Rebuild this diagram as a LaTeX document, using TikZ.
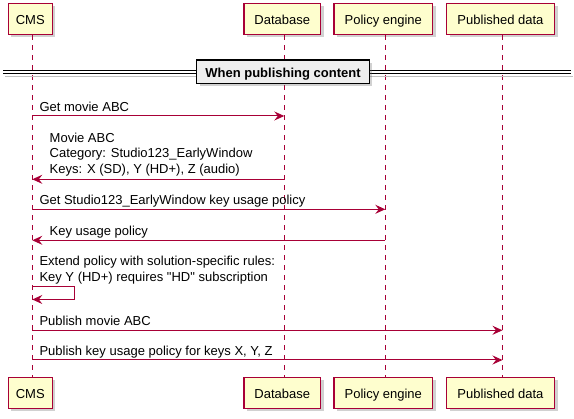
\documentclass[tikz,border=0pt]{standalone}
\usepackage{fontspec}
\setmainfont{Liberation Sans}
\usetikzlibrary{arrows.meta,shadows}
\definecolor{puborder}{HTML}{A80036}
\definecolor{pufill}{HTML}{FEFECE}
\definecolor{divfill}{HTML}{EEEEEE}
\begin{document}
\begin{tikzpicture}[x=1pt,y=-1pt,
  every node/.style={font=\fontsize{13pt}{15.7pt}\selectfont},
  participant/.style={draw=puborder, line width=1.5pt, fill=pufill,
    minimum height=31pt, inner xsep=0pt, inner ysep=0pt,
    text height=12.4pt, text depth=0pt,
    drop shadow={shadow xshift=3pt, shadow yshift=-3pt, opacity=0.3, fill=black!60}},
  lifeline/.style={draw=puborder, line width=1pt, dash pattern=on 5pt off 5pt},
  msg/.style={draw=puborder, line width=1pt, -{Stealth[length=10pt,width=9pt,inset=3.5pt]}},
  lbl/.style={anchor=base west, inner sep=0pt},
  divbox/.style={draw=black, line width=1.5pt, fill=divfill,
    minimum width=172.6pt, minimum height=23.3pt, inner xsep=0pt, inner ysep=0pt,
    text height=11.2pt, text depth=0pt,
    font=\fontsize{13pt}{15.7pt}\selectfont\bfseries,
    drop shadow={shadow xshift=3pt, shadow yshift=-3pt, opacity=0.3, fill=black!60}},
  divline/.style={draw=black, line width=1.1pt}
]
\useasboundingbox (0,0) rectangle (574,419);

% participants (top)
\node[participant, minimum width=44pt]    (cmsT) at (30.3,18.8)  {CMS};
\node[participant, minimum width=76.7pt]  (dbT)  at (282.3,18.8) {Database};
\node[participant, minimum width=98.7pt]  (peT)  at (383.3,18.8) {Policy engine};
\node[participant, minimum width=108pt]   (pdT)  at (500.5,18.8) {Published data};
% participants (bottom)
\node[participant, minimum width=44pt]    (cmsB) at (30.3,392.8)  {CMS};
\node[participant, minimum width=76.7pt]  (dbB)  at (282.3,392.8) {Database};
\node[participant, minimum width=98.7pt]  (peB)  at (383.3,392.8) {Policy engine};
\node[participant, minimum width=108pt]   (pdB)  at (500.5,392.8) {Published data};

% lifelines
\draw[lifeline] ([xshift=2pt]cmsT.south) -- ([xshift=2pt]cmsB.north);
\draw[lifeline] ([xshift=2pt]dbT.south)  -- ([xshift=2pt]dbB.north);
\draw[lifeline] ([xshift=2pt]peT.south)  -- ([xshift=2pt]peB.north);
\draw[lifeline] ([xshift=2pt]pdT.south)  -- ([xshift=2pt]pdB.north);

% divider
\coordinate (dl1a) at (3,70.6);  \coordinate (dl1b) at (571,70.6);
\coordinate (dl2a) at (3,73.4);  \coordinate (dl2b) at (571,73.4);
\draw[black!25, line width=1.5pt] (5,76.5) -- (573,76.5);
\draw[divline] (dl1a) -- (dl1b);
\draw[divline] (dl2a) -- (dl2b);
\node[divbox] (div) at (283,71.7) {When publishing content};

% message 1
\coordinate (m1a) at (32.3,116);   \coordinate (m1b) at (284.3,116);
\draw[msg] (m1a) -- (m1b);
\node[lbl] (t1) at (39.3,111.5) {Get movie ABC};

% message 2
\coordinate (m2a) at (284.3,179.3); \coordinate (m2b) at (32.3,179.3);
\draw[msg] (m2a) -- (m2b);
\node[lbl] (t2a) at (49.5,142.3) {Movie ABC};
\node[lbl] (t2b) at (49.5,158)   {Category: Studio123\_EarlyWindow};
\node[lbl] (t2c) at (49.5,173.7) {Keys: X (SD), Y (HD+), Z (audio)};

% message 3
\coordinate (m3a) at (32.3,209.3); \coordinate (m3b) at (385.3,209.3);
\draw[msg] (m3a) -- (m3b);
\node[lbl] (t3) at (39.3,204.8) {Get Studio123\_EarlyWindow key usage policy};

% message 4
\coordinate (m4a) at (385.3,240.3); \coordinate (m4b) at (32.3,240.3);
\draw[msg] (m4a) -- (m4b);
\node[lbl] (t4) at (49.5,235.8) {Key usage policy};

% message 5 (self)
\coordinate (m5a) at (32.3,286.3); \coordinate (m5c) at (74.3,286.3);
\coordinate (m5d) at (74.3,299.5); \coordinate (m5b) at (32.3,299.5);
\draw[msg] (m5a) -- (m5c) -- (m5d) -- (m5b);
\node[lbl] (t5a) at (39.3,266)   {Extend policy with solution-specific rules:};
\node[lbl] (t5b) at (39.3,281.7) {Key Y (HD+) requires \textquotedbl HD\textquotedbl{} subscription};

% message 6
\coordinate (m6a) at (32.3,330.3); \coordinate (m6b) at (502.5,330.3);
\draw[msg] (m6a) -- (m6b);
\node[lbl] (t6) at (39.3,325.8) {Publish movie ABC};

% message 7
\coordinate (m7a) at (32.3,360); \coordinate (m7b) at (502.5,360);
\draw[msg] (m7a) -- (m7b);
\node[lbl] (t7) at (39.3,355.5) {Publish key usage policy for keys X, Y, Z};
\end{tikzpicture}
\end{document}
